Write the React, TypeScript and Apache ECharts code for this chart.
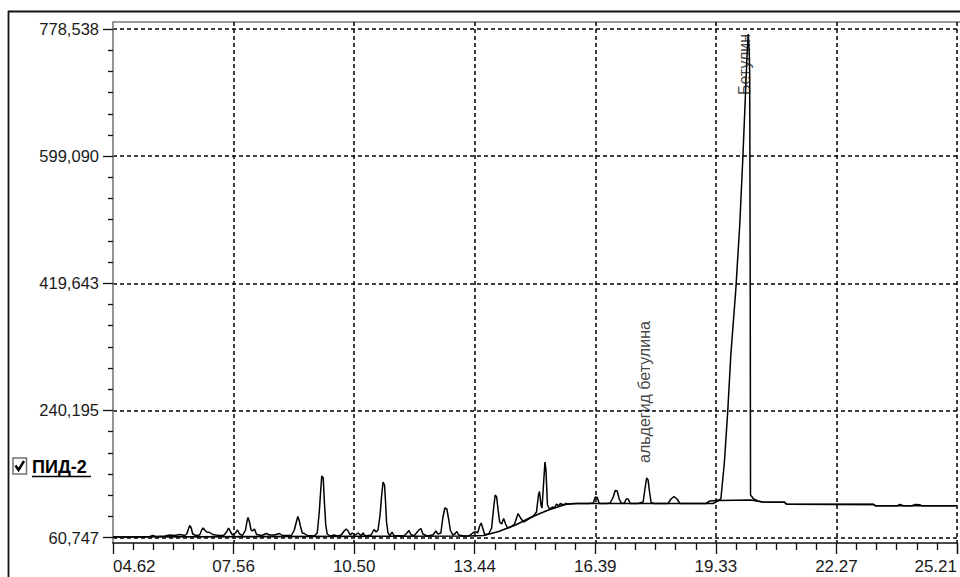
import React, { useEffect, useRef } from "react";
import * as echarts from "echarts";

// Retention time axis (min) — tick labels run from 04.62 to 25.21 in 7 equal steps
const timeMin = 4.62;
const timeMax = 25.21;
const timeSteps = 7;

// Intensity axis — labelled ticks 60,747 … 778,538 in 4 equal steps
const tickMin = 60747;
const tickMax = 778538;
const tickSteps = 4;
// visible plot extent of the intensity axis
const viewMin = 52983;
const viewMax = 788419;

// Detector signal [time, intensity]
const signalPoints: [number, number][] = [
  [4.62, 61453], [5.033, 61453], [5.519, 62159], [5.592, 63570], [5.665, 62159],
  [5.884, 62864], [6.006, 64276], [6.127, 63570], [6.249, 64982], [6.37, 63570],
  [6.419, 65688], [6.468, 74157], [6.492, 77686], [6.528, 74157], [6.565, 65688],
  [6.638, 63570], [6.735, 64276], [6.784, 71334], [6.82, 74157], [6.856, 71334],
  [6.905, 68511], [6.978, 67805], [7.051, 64982], [7.124, 64276], [7.221, 63570],
  [7.318, 63570], [7.391, 68511], [7.44, 74157], [7.489, 68511], [7.537, 64276],
  [7.61, 67099], [7.659, 71334], [7.707, 65688], [7.78, 63570], [7.853, 71334],
  [7.89, 84038], [7.914, 88979], [7.95, 82627], [7.987, 71334], [8.023, 69922],
  [8.072, 72746], [8.121, 64982], [8.242, 63570], [8.364, 66394], [8.437, 64276],
  [8.558, 64276], [8.68, 66394], [8.753, 63570], [8.971, 63570], [9.044, 71334],
  [9.093, 82627], [9.129, 90391], [9.166, 84038], [9.19, 76980], [9.239, 67099],
  [9.287, 66394], [9.36, 63570], [9.53, 62864], [9.603, 67099], [9.652, 96743],
  [9.688, 127798], [9.713, 147560], [9.749, 144737], [9.774, 113682], [9.81, 78392],
  [9.846, 65688], [9.919, 62864],
  [10.017, 64276], [10.09, 62864], [10.187, 64276], [10.26, 69922], [10.308, 72746],
  [10.357, 69922], [10.406, 64276], [10.454, 67099], [10.527, 64276], [10.6, 67099],
  [10.673, 63570], [10.722, 67099], [10.77, 62864], [10.916, 64276], [10.989, 72040],
  [11.038, 68511], [11.086, 71334], [11.135, 92508], [11.171, 117917], [11.208, 139091],
  [11.244, 134856], [11.269, 110859], [11.293, 82627], [11.329, 67099], [11.378, 63570],
  [11.427, 68511], [11.475, 63570], [11.718, 62864], [11.791, 67099], [11.84, 70628],
  [11.888, 64982], [11.961, 62864], [12.083, 71334], [12.132, 73451], [12.18, 65688],
  [12.277, 62864], [12.423, 64276], [12.496, 69922], [12.545, 65688], [12.618, 67099],
  [12.666, 88273], [12.715, 102389], [12.764, 100978], [12.812, 85450], [12.849, 71334],
  [12.909, 64276], [12.958, 65688], [13.007, 69217], [13.055, 64276], [13.177, 62864],
  [13.298, 62864], [13.396, 67099], [13.469, 69217], [13.517, 67099], [13.566, 76980],
  [13.602, 81215], [13.639, 74157], [13.687, 64982], [13.785, 65688], [13.857, 74157],
  [13.906, 102389], [13.943, 120740], [13.979, 117917], [14.015, 99566], [14.052, 82627],
  [14.101, 79803], [14.149, 87567], [14.198, 79803], [14.246, 74157], [14.319, 75569],
  [14.417, 79803], [14.502, 94626], [14.562, 88273], [14.635, 82627], [14.757, 86862],
  [14.878, 91096], [14.951, 96743], [15.0, 120740], [15.024, 125681], [15.061, 106624],
  [15.085, 102389], [15.122, 134856], [15.158, 167323], [15.182, 156030], [15.219, 106624],
  [15.267, 100978], [15.34, 103801],
  [15.389, 102389], [15.438, 108036], [15.486, 105212], [15.535, 108741], [15.608, 106624],
  [15.656, 108741], [15.729, 108036], [15.972, 108741], [16.215, 108741], [16.337, 109447],
  [16.386, 117917], [16.434, 117211], [16.483, 108741], [16.653, 108741], [16.75, 109447],
  [16.823, 117917], [16.872, 127092], [16.92, 126386], [16.969, 115094], [17.018, 109447],
  [17.091, 108741], [17.139, 115094], [17.188, 115094], [17.236, 108741], [17.431, 108741],
  [17.552, 110859], [17.601, 130621], [17.638, 144737], [17.674, 141914], [17.71, 124975],
  [17.747, 110153], [17.82, 108741], [18.16, 108741], [18.233, 115094], [18.306, 118623],
  [18.379, 115094], [18.452, 108741], [18.889, 108741], [19.084, 108741], [19.181, 112270],
  [19.327, 112976], [19.4, 113682], [19.449, 115094], [19.534, 165911], [19.619, 240726],
  [19.692, 318364], [19.813, 410118], [19.91, 501872], [19.983, 593626], [20.044, 678322],
  [20.093, 748902], [20.117, 771488], [20.141, 748902], [20.153, 713612], [20.166, 396002],
  [20.173, 120740], [20.251, 115094], [20.348, 112270], [20.47, 110859], [21.004, 110435],
  [21.053, 107612], [23.168, 107471], [23.216, 105636], [23.751, 105636], [23.824, 107330],
  [23.897, 105636], [24.116, 105636], [24.189, 107330], [24.31, 106906], [24.359, 105495],
  [25.21, 105495],
];

// Integration baseline [time, intensity]
const baselinePoints: [number, number][] = [
  [4.62, 61453], [13.298, 62864], [13.663, 63570], [14.028, 69217], [14.441, 78392],
  [14.83, 89685], [15.243, 99566], [15.656, 107330], [15.851, 108741], [19.254, 108741],
  [19.4, 112976], [20.178, 113682], [20.47, 110859], [21.004, 110435], [21.053, 107612],
  [23.168, 107471], [23.216, 105636], [25.21, 105636],
];

// Peak annotations (label anchor [time, intensity])
const annotationNames = ["альдегид бетулина", "Бетулин"];
const annotationAnchors: [number, number][] = [
  [17.577, 165911],
  [20.02, 685380],
];

const legendLabel = "ПИД-2";

const FONT = "'Liberation Sans', Arial, Helvetica, sans-serif";

function fmtTime(v: number): string {
  const s = v.toFixed(2);
  return s.length < 5 ? "0" + s : s;
}
function fmtValue(v: number): string {
  return Math.round(v).toLocaleString("en-US");
}

export default function App() {
  const ref = useRef<HTMLDivElement | null>(null);

  useEffect(() => {
    if (!ref.current) return;
    const chart = echarts.init(ref.current, undefined, { renderer: "svg" });
    const ink = "#111";
    const tickStyle = { color: ink, width: 1.3 };
    const dashed = { color: "#000", width: 1.5, type: [4, 3] as number[] };

    const option: any = {
      animation: false,
      backgroundColor: "#ffffff",
      grid: [
        { left: 113, right: 0, top: 22, bottom: 34 },
        { left: 113, right: 0, top: 29, bottom: 39.5 },
      ],
      xAxis: [
        {
          type: "value",
          gridIndex: 0,
          min: timeMin,
          max: timeMax,
          interval: (timeMax - timeMin) / timeSteps,
          axisLine: { show: true, onZero: false, lineStyle: { color: ink, width: 1.6 } },
          axisTick: { show: true, length: 11, lineStyle: tickStyle },
          minorTick: { show: true, splitNumber: 6, length: 7, lineStyle: tickStyle },
          axisLabel: {
            margin: 15,
            fontSize: 17,
            fontFamily: FONT,
            color: "#1a1a1a",
            showMinLabel: true,
            showMaxLabel: true,
            alignMinLabel: "left",
            alignMaxLabel: "right",
            formatter: (v: number) => fmtTime(v),
          },
          splitLine: { show: true, showMinLine: false, showMaxLine: false, lineStyle: dashed },
        },
        { type: "value", gridIndex: 1, min: timeMin, max: timeMax, show: false },
      ],
      yAxis: [
        {
          type: "value",
          gridIndex: 0,
          min: viewMin,
          max: viewMax,
          axisLine: { show: true, onZero: false, lineStyle: { color: "#7a7a7a", width: 1.6 } },
          axisTick: { show: false },
          axisLabel: { show: false },
          splitLine: { show: false },
        },
        {
          type: "value",
          gridIndex: 1,
          min: tickMin,
          max: tickMax,
          interval: (tickMax - tickMin) / tickSteps,
          axisLine: { show: false },
          axisTick: { show: true, length: 10, lineStyle: tickStyle },
          minorTick: { show: true, splitNumber: 6, length: 5, lineStyle: tickStyle },
          axisLabel: {
            margin: 14,
            fontSize: 16.5,
            fontFamily: FONT,
            color: "#1a1a1a",
            showMinLabel: true,
            showMaxLabel: true,
            formatter: (v: number) => fmtValue(v),
          },
          splitLine: { show: true, lineStyle: dashed },
        },
      ],
      series: [
        {
          name: "baseline",
          type: "line",
          xAxisIndex: 0,
          yAxisIndex: 0,
          data: baselinePoints,
          showSymbol: false,
          symbol: "none",
          lineStyle: { color: "#000", width: 1.6 },
          z: 3,
        },
        {
          name: "signal",
          type: "line",
          xAxisIndex: 0,
          yAxisIndex: 0,
          data: signalPoints,
          showSymbol: false,
          symbol: "none",
          lineStyle: { color: "#000", width: 1.5 },
          z: 4,
        },
        {
          name: "labels",
          type: "scatter",
          xAxisIndex: 0,
          yAxisIndex: 0,
          symbol: "circle",
          symbolSize: 1,
          itemStyle: { color: "rgba(0,0,0,0)" },
          data: annotationAnchors.map((p, i) => ({ value: p, name: annotationNames[i] })),
          label: {
            show: true,
            position: "inside",
            rotate: 90,
            align: "left",
            verticalAlign: "middle",
            fontSize: 16,
            fontFamily: FONT,
            color: "#111",
            textBorderWidth: 0,
            textBorderColor: "transparent",
            formatter: (p: any) => p.name,
          },
          silent: true,
          z: 5,
        },
      ],
      graphic: [
        { type: "line", shape: { x1: 8, y1: 11.5, x2: 960, y2: 11.5 }, style: { stroke: "#111", lineWidth: 1.8 } },
        { type: "line", shape: { x1: 8.5, y1: 11, x2: 8.5, y2: 577 }, style: { stroke: "#111", lineWidth: 1.8 } },
        { type: "line", shape: { x1: 113, y1: 22, x2: 960, y2: 22 }, style: { stroke: "#7a7a7a", lineWidth: 1.6 } },
        { type: "rect", shape: { x: 13, y: 458, width: 13.5, height: 16 }, style: { fill: "#fff", stroke: "#707070", lineWidth: 1.5 } },
        { type: "polyline", shape: { points: [[15.5, 465.5], [18.5, 470], [24, 461]] }, style: { stroke: "#000", lineWidth: 2.4, fill: null } },
        { type: "text", style: { x: 32, y: 466.5, text: legendLabel, font: `bold 18px ${FONT}`, fill: "#000", verticalAlign: "middle" } },
        { type: "line", shape: { x1: 32, y1: 476.5, x2: 91, y2: 476.5 }, style: { stroke: "#000", lineWidth: 1.6 } },
      ],
    };

    chart.setOption(option);
    return () => chart.dispose();
  }, []);

  return (
    <div
      ref={ref}
      style={{ position: "absolute", left: 0, top: 0, width: 960, height: 577, background: "#fff" }}
    />
  );
}
